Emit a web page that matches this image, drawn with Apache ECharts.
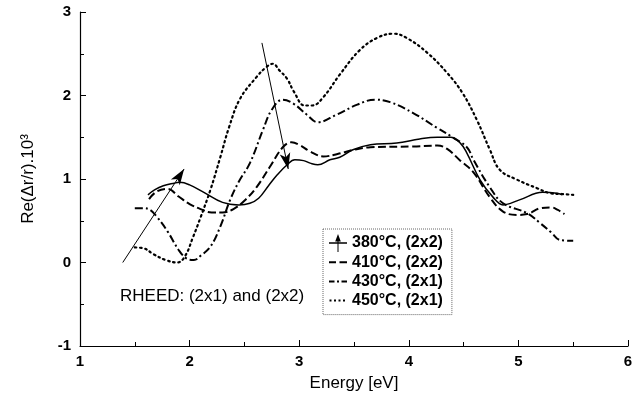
<!DOCTYPE html>
<html>
<head>
<meta charset="utf-8">
<script src="https://cdn.jsdelivr.net/npm/echarts@6/dist/echarts.min.js"></script>
<style>html,body{margin:0;padding:0;background:#fff}#c{width:642px;height:402px}</style>
</head>
<body>
<div id="c"></div>
<script>
// ---- data ----
const seriesNames = ['380\u00B0C, (2x2)', '410\u00B0C, (2x2)', '430\u00B0C, (2x1)', '450\u00B0C, (2x1)'];

const e380 = [1.62,1.68,1.76,1.86,1.91,2.00,2.13,2.30,2.45,2.55,2.63,2.72,2.80,2.89,2.96,3.04,3.10,3.17,3.28,3.37,3.49,3.65,3.89,4.10,4.26,4.38,4.47,4.53,4.65,4.77,4.86,5.01,5.22,5.35,5.40];
const v380 = [0.81,0.87,0.92,0.95,0.96,0.93,0.84,0.72,0.69,0.71,0.77,0.92,1.05,1.17,1.23,1.22,1.19,1.17,1.23,1.26,1.35,1.41,1.43,1.48,1.50,1.50,1.43,1.31,0.99,0.78,0.69,0.75,0.84,0.83,0.81];

const e410 = [1.63,1.70,1.80,1.90,2.00,2.10,2.20,2.30,2.40,2.50,2.61,2.73,2.85,2.93,3.00,3.10,3.22,3.35,3.50,3.65,4.04,4.26,4.35,4.47,4.59,4.74,4.86,4.99,5.08,5.20,5.30,5.36,5.42];
const v410 = [0.76,0.85,0.88,0.79,0.70,0.64,0.60,0.60,0.64,0.74,0.90,1.14,1.38,1.44,1.41,1.33,1.27,1.30,1.35,1.38,1.39,1.40,1.36,1.22,1.08,0.78,0.61,0.57,0.58,0.65,0.66,0.63,0.58];

const e430 = [1.50,1.58,1.64,1.70,1.80,1.90,1.97,2.04,2.10,2.19,2.28,2.37,2.45,2.55,2.67,2.75,2.85,2.95,3.07,3.17,3.34,3.53,3.69,3.83,4.04,4.26,4.40,4.53,4.59,4.74,4.86,5.08,5.20,5.30,5.38,5.50];
const v430 = [0.65,0.65,0.63,0.55,0.37,0.15,0.05,0.03,0.08,0.19,0.43,0.75,0.97,1.19,1.59,1.83,1.95,1.90,1.77,1.68,1.77,1.89,1.95,1.92,1.79,1.61,1.50,1.38,1.23,0.90,0.71,0.59,0.47,0.36,0.27,0.26];

const e450 = [1.50,1.58,1.67,1.78,1.89,1.96,2.03,2.10,2.19,2.28,2.36,2.46,2.61,2.70,2.76,2.82,2.89,2.95,3.05,3.12,3.22,3.37,3.55,3.71,3.86,3.98,4.17,4.35,4.49,4.62,4.74,4.83,4.99,5.17,5.29,5.40,5.50];
const v450 = [0.18,0.17,0.10,0.03,0.00,0.08,0.30,0.54,0.87,1.26,1.62,1.96,2.22,2.34,2.38,2.30,2.20,2.05,1.88,1.88,1.98,2.25,2.54,2.69,2.74,2.69,2.51,2.27,2.03,1.71,1.35,1.11,0.99,0.89,0.83,0.82,0.81];

// annotation arrows: [start, end] in data coordinates
const arrowUp = [[1.39, 0.00], [1.95, 1.12]];
const arrowDown = [[2.66, 2.63], [2.90, 1.12]];

const xTicks = {min: 1, max: 6, interval: 1};
const yTicks = {min: -1, max: 3, interval: 1};

function pairs(e, v) { return e.map((x, i) => [x, v[i]]); }

const FONT = '"Liberation Sans", Arial, Helvetica, sans-serif';
const styles = [
  {width: 1.5, type: 'solid'},
  {width: 2, type: [8, 3.5]},
  {width: 2, type: [8, 3, 2, 3]},
  {width: 2.2, type: [1.6, 3.6], cap: 'round'}
];
const dataSets = [pairs(e380, v380), pairs(e410, v410), pairs(e430, v430), pairs(e450, v450)];

const series = dataSets.map((d, i) => ({
  name: seriesNames[i],
  type: 'line',
  data: d,
  smooth: 0.4,
  symbol: 'none',
  silent: true,
  lineStyle: {color: '#000', width: styles[i].width, type: styles[i].type, cap: styles[i].cap || 'butt'},
  itemStyle: {color: '#000'}
}));

series.push({
  type: 'line',
  data: [],
  silent: true,
  markLine: {
    silent: true,
    symbol: ['none', 'arrow'],
    symbolSize: [8, 16],
    label: {show: false},
    lineStyle: {color: '#000', width: 1, type: 'solid'},
    data: [
      [{coord: arrowUp[0]}, {coord: arrowUp[1]}],
      [{coord: arrowDown[0]}, {coord: arrowDown[1]}]
    ]
  }
});

// legend sample icons (18x18 boxes, filled shapes)
const BOX = 'M0,0 L0.01,0 L0,0.01 Z M18,18 L17.99,18 L18,17.99 Z ';
const legendIcons = [
  'path://' + BOX + 'M0,8.3 L18,8.3 L18,9.7 L0,9.7 Z M9,0 L11.8,7.5 L6.2,7.5 Z M8.5,7 L9.5,7 L9.5,18 L8.5,18 Z',
  'path://' + BOX + 'M0,8 L7,8 L7,10 L0,10 Z M10.5,8 L18,8 L18,10 L10.5,10 Z',
  'path://' + BOX + 'M0,8 L5.5,8 L5.5,10 L0,10 Z M8,8 L10,8 L10,10 L8,10 Z M12.5,8 L18,8 L18,10 L12.5,10 Z',
  'path://' + BOX + 'M0.5,8 L2.5,8 L2.5,10 L0.5,10 Z M5,8 L7,8 L7,10 L5,10 Z M9.5,8 L11.5,8 L11.5,10 L9.5,10 Z M14,8 L16,8 L16,10 L14,10 Z'
];

const chart = echarts.init(document.getElementById('c'), null, {renderer: 'canvas'});
chart.setOption({
  animation: false,
  backgroundColor: '#fff',
  title: {
    text: 'RHEED: (2x1) and (2x2)',
    left: 120, top: 288, padding: 0,
    textStyle: {fontFamily: FONT, fontSize: 17, fontWeight: 'normal', color: '#000'}
  },
  legend: {
    orient: 'vertical',
    left: 323, top: 229,
    padding: [5, 9, 5, 6],
    itemWidth: 18, itemHeight: 18, itemGap: 1.2,
    symbolKeepAspect: false,
    borderColor: '#666', borderWidth: 1, borderType: 'dotted',
    backgroundColor: '#fff',
    selectedMode: false,
    itemStyle: {color: '#000', borderWidth: 0},
    textStyle: {fontFamily: FONT, fontSize: 16, fontWeight: 'bold', color: '#000', lineHeight: 16},
    data: seriesNames.map((n, i) => ({name: n, icon: legendIcons[i]}))
  },
  grid: {left: 80, right: 14, top: 12, bottom: 56, containLabel: false, outerBoundsMode: 'none'},
  xAxis: {
    type: 'value', min: xTicks.min, max: xTicks.max, interval: xTicks.interval,
    name: 'Energy [eV]', nameLocation: 'middle', nameGap: 29,
    nameTextStyle: {fontFamily: FONT, fontSize: 17, color: '#000'},
    axisLine: {show: true, onZero: false, lineStyle: {color: '#000', width: 1.2}},
    axisTick: {show: true, inside: true, length: 6, lineStyle: {color: '#000', width: 1}},
    minorTick: {show: true, splitNumber: 2, length: 4, lineStyle: {color: '#000', width: 1}},
    axisLabel: {fontFamily: FONT, fontSize: 15, fontWeight: 'bold', color: '#000', margin: 8, showMinLabel: true, showMaxLabel: true},
    splitLine: {show: false}, minorSplitLine: {show: false}
  },
  yAxis: {
    type: 'value', min: yTicks.min, max: yTicks.max, interval: yTicks.interval,
    name: 'Re(\u0394r/r).10\u00B3', nameLocation: 'middle', nameGap: 43, nameRotate: 90,
    nameTextStyle: {fontFamily: FONT, fontSize: 17, color: '#000'},
    axisLine: {show: true, onZero: false, lineStyle: {color: '#000', width: 1.2}},
    axisTick: {show: true, inside: true, length: 6, lineStyle: {color: '#000', width: 1}},
    minorTick: {show: true, splitNumber: 2, length: 4, lineStyle: {color: '#000', width: 1}},
    axisLabel: {fontFamily: FONT, fontSize: 15, fontWeight: 'bold', color: '#000', margin: 9, showMinLabel: true, showMaxLabel: true},
    splitLine: {show: false}, minorSplitLine: {show: false}
  },
  series: series
});
</script>
</body>
</html>
